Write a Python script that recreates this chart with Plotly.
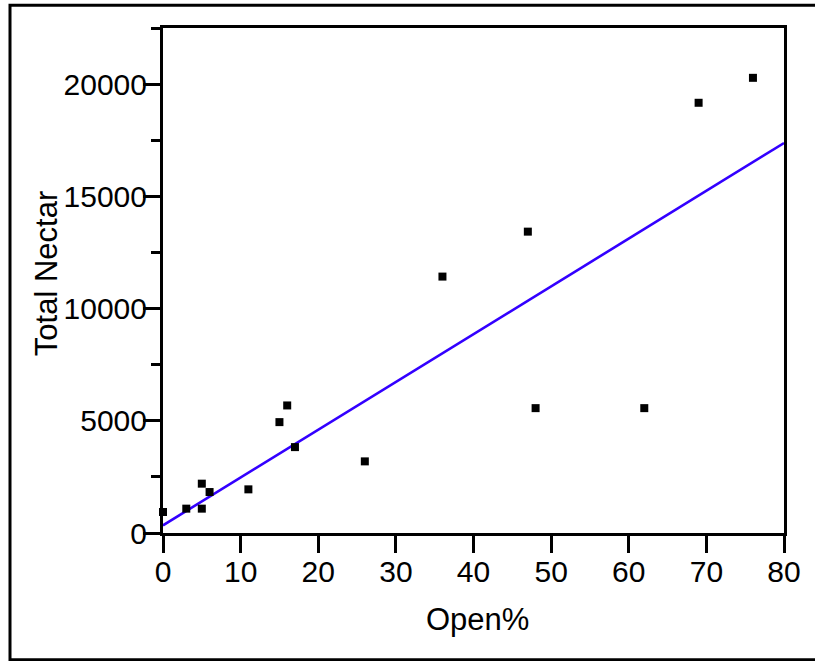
import plotly.graph_objects as go

# Data
open_pct = [0, 3, 5, 5, 6, 11, 15, 16, 17, 26, 36, 47, 48, 62, 69, 76]
total_nectar = [935, 1085, 2198, 1085, 1825, 1945, 4940, 5683, 3827, 3191,
                11424, 13427, 5563, 5563, 19168, 20280]

# Regression line
fit_intercept = 343
fit_slope = 212.9
fit_x = [0, 80]
fit_y = [fit_intercept + fit_slope * v for v in fit_x]

x_ticks = [0, 10, 20, 30, 40, 50, 60, 70, 80]
y_ticks = [0, 5000, 10000, 15000, 20000]

FONT = "Liberation Sans, Arial, sans-serif"
TICK_SIZE = 30
TITLE_SIZE = 31

fig = go.Figure()
fig.add_trace(go.Scatter(
    x=fit_x, y=fit_y, mode="lines",
    line=dict(color="#3300ff", width=2.6),
    hoverinfo="skip", showlegend=False, cliponaxis=False))
fig.add_trace(go.Scatter(
    x=open_pct, y=total_nectar, mode="markers",
    marker=dict(symbol="square", size=8, color="black", line=dict(width=0)),
    showlegend=False, cliponaxis=False))

W, H = 815, 661
L, R, T, B = 163, 31, 28, 128.3
pw, ph = W - L - R, H - T - B

def px_x(X):
    return (X - L) / pw

def px_y(Y):
    return (H - B - Y) / ph

fig.update_layout(
    width=W, height=H,
    margin=dict(l=L, r=R, t=T, b=B, pad=0),
    paper_bgcolor="white", plot_bgcolor="white",
    font=dict(family=FONT, size=TICK_SIZE, color="black"),
    xaxis=dict(
        range=[0, 80], tickvals=x_ticks, ticktext=[str(v) for v in x_ticks],
        showline=True, linecolor="black", linewidth=3, mirror=True,
        ticks="outside", ticklen=17, tickwidth=3, tickcolor="black",
        showgrid=False, zeroline=False, ticklabelstandoff=-7,
        tickfont=dict(family=FONT, size=TICK_SIZE, color="black"),
    ),
    yaxis=dict(
        range=[0, 22500], tickvals=y_ticks, ticktext=[str(v) for v in y_ticks],
        showline=True, linecolor="black", linewidth=3, mirror=True,
        ticks="outside", ticklen=17, tickwidth=3, tickcolor="black",
        showgrid=False, zeroline=False, ticklabelstandoff=-10,
        tickfont=dict(family=FONT, size=TICK_SIZE, color="black"),
        minor=dict(dtick=2500, tick0=0, ticks="outside", ticklen=9,
                   tickwidth=3, tickcolor="black", showgrid=False),
    ),
    shapes=[dict(
        type="rect", xref="paper", yref="paper",
        x0=px_x(10), x1=px_x(830), y0=px_y(659.3), y1=px_y(5.3),
        line=dict(color="black", width=3), fillcolor="rgba(0,0,0,0)",
        layer="above")],
    annotations=[
        dict(text="Open%", xref="paper", yref="paper",
             x=px_x(477), y=px_y(619), xanchor="center", yanchor="middle",
             showarrow=False, font=dict(family=FONT, size=TITLE_SIZE, color="black")),
        dict(text="Total Nectar", xref="paper", yref="paper",
             x=px_x(46), y=px_y(274), xanchor="center", yanchor="middle",
             textangle=-90, showarrow=False,
             font=dict(family=FONT, size=TITLE_SIZE, color="black")),
    ],
)

fig.write_html(
    "out.html",
    config={"displayModeBar": False},
    post_script="document.body.style.margin='0px';"
                "document.body.style.padding='0px';",
)
